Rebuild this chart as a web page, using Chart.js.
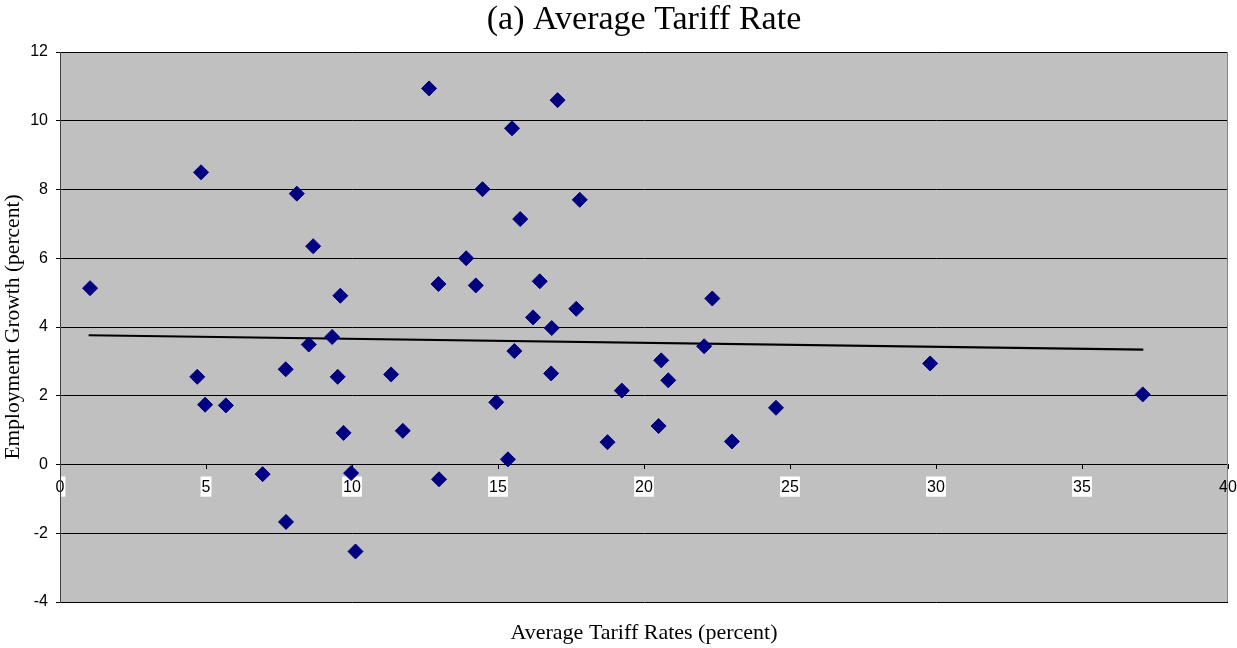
<!DOCTYPE html>
<html>
<head>
<meta charset="utf-8">
<title>(a) Average Tariff Rate</title>
<script src="https://cdn.jsdelivr.net/npm/chart.js@4/dist/chart.umd.min.js"></script>
<style>
  html, body { margin: 0; padding: 0; background: #ffffff; }
  #wrap { width: 1237px; height: 648px; position: relative; }
</style>
</head>
<body>
<div id="wrap"><canvas id="chart" width="1237" height="648"></canvas></div>
<script>
// Average tariff rate (percent) per country
const tariffRates = [
  1.03, 4.83, 4.70, 4.97, 5.68, 6.94, 7.74, 7.73, 8.11, 8.67,
  8.52, 9.32, 9.60, 9.51, 9.71, 9.97, 10.12, 11.34, 11.74, 12.64,
  12.96, 12.98, 13.91, 14.24, 14.47, 14.94, 15.34, 15.48, 15.56, 15.76,
  16.20, 16.43, 16.84, 16.82, 17.04, 17.68, 17.80, 18.75, 19.24, 20.50,
  20.59, 20.83, 22.06, 22.34, 23.01, 24.52, 29.80, 37.08
];

// Employment growth (percent) for the same countries
const employmentGrowth = [
  5.13, 8.50, 2.55, 1.74, 1.72, -0.28, -1.67, 2.77, 7.88, 6.35,
  3.49, 3.71, 4.91, 2.55, 0.92, -0.25, -2.53, 2.62, 0.98, 10.94,
  5.25, -0.43, 6.00, 5.21, 8.01, 1.81, 0.15, 9.78, 3.30, 7.14,
  4.28, 5.33, 3.97, 2.65, 10.60, 4.53, 7.70, 0.65, 2.15, 1.12,
  3.03, 2.45, 3.44, 4.83, 0.67, 1.65, 2.94, 2.04
];

// Linear trend line end points
const trendTariff = [0.98, 37.1];
const trendGrowth = [3.76, 3.34];

// Tick values on both axes
const xTicks = [0, 5, 10, 15, 20, 25, 30, 35, 40];
const yTicks = [-4, -2, 0, 2, 4, 6, 8, 10, 12];

const scatterPoints = tariffRates.map((x, i) => ({ x: x, y: employmentGrowth[i] }));
const trendPoints = trendTariff.map((x, i) => ({ x: x, y: trendGrowth[i] }));

// Gray plot area with a thin frame on the right
const plotBackground = {
  id: 'plotBackground',
  beforeDraw(chart) {
    const { ctx, chartArea: a } = chart;
    ctx.save();
    ctx.fillStyle = '#c0c0c0';
    ctx.fillRect(a.left, a.top, a.right - a.left, a.bottom - a.top);
    ctx.restore();
  },
  beforeDatasetsDraw(chart) {
    const { ctx, chartArea: a } = chart;
    ctx.save();
    ctx.strokeStyle = '#808080';
    ctx.lineWidth = 1;
    ctx.beginPath();
    ctx.moveTo(Math.round(a.right) - 0.5, a.top);
    ctx.lineTo(Math.round(a.right) - 0.5, a.bottom);
    ctx.stroke();
    ctx.restore();
  }
};

const serif = '"Liberation Serif", "Times New Roman", serif';
const sans = '"Liberation Sans", Arial, sans-serif';

new Chart(document.getElementById('chart'), {
  type: 'scatter',
  data: {
    datasets: [
      {
        label: 'Employment Growth',
        data: scatterPoints,
        pointStyle: 'rectRot',
        pointRadius: 7.5,
        pointHoverRadius: 7.5,
        pointBackgroundColor: '#000080',
        pointBorderColor: '#000080',
        pointBorderWidth: 1,
        order: 1
      },
      {
        label: 'Trend',
        type: 'line',
        data: trendPoints,
        borderColor: '#000000',
        borderWidth: 2.2,
        pointRadius: 0,
        fill: false,
        order: 2
      }
    ]
  },
  options: {
    responsive: false,
    animation: false,
    layout: { padding: 0 },
    plugins: {
      legend: { display: false },
      tooltip: { enabled: false },
      title: {
        display: true,
        text: '(a) Average Tariff Rate',
        fullSize: false,
        color: '#000000',
        font: { family: serif, size: 34, weight: 'normal' },
        padding: { top: 0, bottom: 11.2 }
      },
      subtitle: {
        display: true,
        position: 'bottom',
        text: 'Average Tariff Rates (percent)',
        fullSize: false,
        color: '#000000',
        font: { family: serif, size: 22, weight: 'normal' },
        padding: { top: 17.6, bottom: 2 }
      }
    },
    scales: {
      x: {
        type: 'linear',
        position: { y: 0 },
        min: 0,
        max: 40,
        afterBuildTicks(scale) { scale.ticks = xTicks.map(v => ({ value: v })); },
        afterFit(scale) { scale.paddingLeft = 0; scale.paddingRight = 9; },
        grid: { drawOnChartArea: false, drawTicks: true, tickLength: 4, color: '#000000', lineWidth: 1 },
        border: { display: true, color: '#000000', width: 1 },
        ticks: {
          color: '#000000',
          font: { family: sans, size: 16 },
          padding: 9,
          maxRotation: 0,
          showLabelBackdrop: true,
          backdropColor: (c) => (c.tick && c.tick.value === 40 ? 'rgba(0,0,0,0)' : '#ffffff'),
          backdropPadding: { top: 1, bottom: 0, left: 1, right: 1 }
        }
      },
      y: {
        type: 'linear',
        position: 'left',
        min: -4,
        max: 12,
        afterBuildTicks(scale) { scale.ticks = yTicks.map(v => ({ value: v })); },
        afterFit(scale) { scale.width = 60; },
        grid: { color: '#000000', lineWidth: 1, drawTicks: true, tickLength: 4 },
        border: { display: true, color: '#404040', width: 1 },
        ticks: {
          color: '#000000',
          font: { family: sans, size: 16 },
          padding: 8
        },
        title: {
          display: true,
          text: 'Employment Growth (percent)',
          color: '#000000',
          font: { family: serif, size: 21.5, weight: 'normal' },
          padding: 0
        }
      }
    }
  },
  plugins: [plotBackground]
});
</script>
</body>
</html>
